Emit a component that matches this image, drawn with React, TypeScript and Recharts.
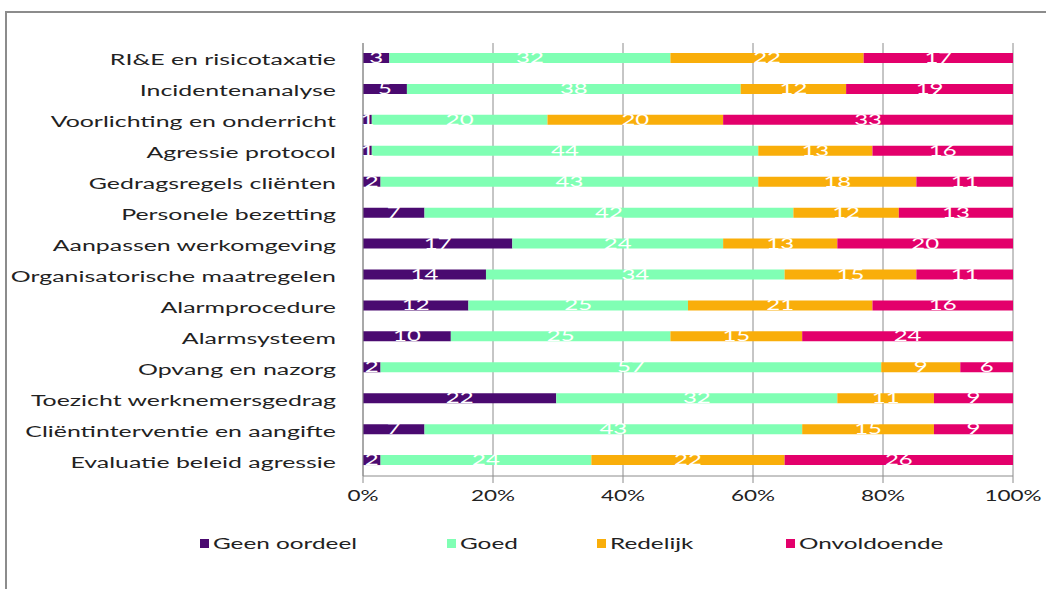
import { type FC } from 'react';
import {
  Bar,
  BarChart,
  CartesianGrid,
  LabelList,
  Legend,
  XAxis,
  YAxis,
} from 'recharts';

const categories = [
  'RI&E en risicotaxatie',
  'Incidentenanalyse',
  'Voorlichting en onderricht',
  'Agressie protocol',
  'Gedragsregels cliënten',
  'Personele bezetting',
  'Aanpassen werkomgeving',
  'Organisatorische maatregelen',
  'Alarmprocedure',
  'Alarmsysteem',
  'Opvang en nazorg',
  'Toezicht werknemersgedrag',
  'Cliëntinterventie en aangifte',
  'Evaluatie beleid agressie',
];

const geenOordeel = [3, 5, 1, 1, 2, 7, 17, 14, 12, 10, 2, 22, 7, 2];
const goed = [32, 38, 20, 44, 43, 42, 24, 34, 25, 25, 57, 32, 43, 24];
const redelijk = [22, 12, 20, 13, 18, 12, 13, 15, 21, 15, 9, 11, 15, 22];
const onvoldoende = [17, 19, 33, 16, 11, 13, 20, 11, 16, 24, 6, 9, 9, 26];

const xTicks = [0, 0.2, 0.4, 0.6, 0.8, 1];

const series = [
  { key: 'geen', name: 'Geen oordeel', color: '#4a0a70' },
  { key: 'goed', name: 'Goed', color: '#80ffb4' },
  { key: 'redelijk', name: 'Redelijk', color: '#f9ae0a' },
  { key: 'onvoldoende', name: 'Onvoldoende', color: '#e3006b' },
];

const legendLeft = [200, 447, 597, 786];

const data = categories.map((name, i) => ({
  name,
  geen: geenOordeel[i],
  goed: goed[i],
  redelijk: redelijk[i],
  onvoldoende: onvoldoende[i],
}));

const FONT = 'Lato, sans-serif';
const STRETCH = 1.5;

const CategoryTick = ({ x, y, payload }: any) => (
  <text
    transform={`translate(${x},${y}) scale(1.66,1)`}
    textAnchor="end"
    dy={7}
    fontSize={15}
    fontFamily={FONT}
    fill="#222"
  >
    {payload.value}
  </text>
);

const PercentTick = ({ x, y, payload }: any) => (
  <text
    transform={`translate(${x},${y}) scale(${STRETCH},1)`}
    textAnchor="middle"
    dy={16}
    fontSize={15}
    fontFamily={FONT}
    fill="#222"
  >
    {`${Math.round(payload.value * 100)}%`}
  </text>
);

const SegmentLabel = ({ x, y, width, height, value }: any) => (
  <text
    transform={`translate(${x + width / 2},${y + height / 2}) scale(1.6,1)`}
    textAnchor="middle"
    dy={5}
    fontSize={15}
    fontFamily={FONT}
    fill="#fff"
  >
    {value}
  </text>
);

const LegendContent = () => (
  <div style={{ position: 'relative', height: 20, width: 1046 }}>
    {series.map((s, i) => (
      <div
        key={s.key}
        style={{
          position: 'absolute',
          left: legendLeft[i],
          top: 0,
          display: 'flex',
          alignItems: 'center',
          whiteSpace: 'nowrap',
        }}
      >
        <span
          style={{
            display: 'inline-block',
            width: 9,
            height: 9,
            background: s.color,
            marginRight: 4,
          }}
        />
        <span
          style={{
            display: 'inline-block',
            fontFamily: FONT,
            fontSize: 15,
            color: '#222',
            transform: 'scaleX(1.62)',
            transformOrigin: 'left center',
          }}
        >
          {s.name}
        </span>
      </div>
    ))}
  </div>
);

const App: FC = () => {
  return (
    <div
      style={{
        position: 'absolute',
        left: 0,
        top: 0,
        width: 1046,
        height: 589,
        overflow: 'hidden',
        background: '#fff',
      }}
    >
      <div
        style={{
          position: 'absolute',
          left: 5,
          top: 11,
          width: 1100,
          height: 700,
          borderLeft: '2px solid #8c8c8c',
          borderTop: '2px solid #8c8c8c',
        }}
      />
      <div style={{ position: 'absolute', left: 0, top: 0 }}>
        <BarChart
          width={1046}
          height={589}
          data={data}
          layout="vertical"
          stackOffset="expand"
          barSize={10}
          margin={{ top: 43, right: 33, bottom: 63, left: 0 }}
        >
          <CartesianGrid horizontal={false} stroke="#8c8c8c" />
          <XAxis
            type="number"
            domain={[0, 1]}
            ticks={xTicks}
            tick={<PercentTick />}
            stroke="#8c8c8c"
            tickSize={7}
            height={30}
          />
          <YAxis
            type="category"
            dataKey="name"
            width={363}
            tick={<CategoryTick />}
            tickLine={false}
            tickSize={0}
            tickMargin={27}
            stroke="#8c8c8c"
            interval={0}
          />
          <Legend
            content={<LegendContent />}
            verticalAlign="bottom"
            wrapperStyle={{ left: 0, top: 534, width: 1046, height: 20 }}
          />
          {series.map((s) => (
            <Bar
              key={s.key}
              dataKey={s.key}
              name={s.name}
              stackId="a"
              fill={s.color}
              isAnimationActive={false}
            >
              <LabelList dataKey={s.key} content={<SegmentLabel />} />
            </Bar>
          ))}
        </BarChart>
      </div>
    </div>
  );
};

export default App;
